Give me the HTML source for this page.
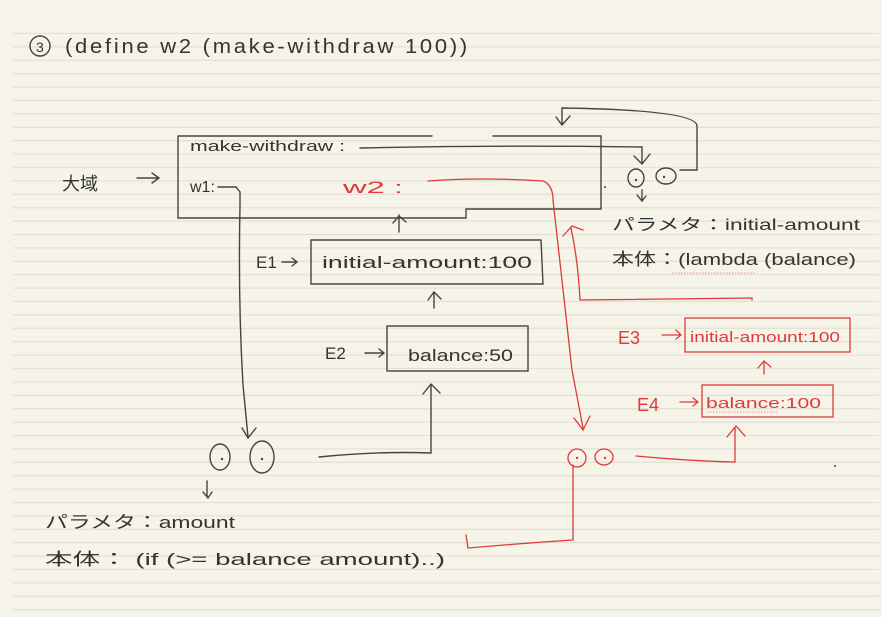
<!DOCTYPE html>
<html><head><meta charset="utf-8"><style>
html,body{margin:0;padding:0;background:#f6f4e9;}
svg{display:block}
text{font-family:"Liberation Sans","Noto Sans CJK JP",sans-serif;}
</style></head><body>
<svg width="882" height="617" viewBox="0 0 882 617" xmlns="http://www.w3.org/2000/svg">
<rect width="882" height="617" fill="#f6f4e9"/>
<g stroke="#e2e2d9" stroke-width="1.3">
<line x1="13" x2="879" y1="33.5" y2="33.5"/><line x1="13" x2="879" y1="46.9" y2="46.9"/><line x1="13" x2="879" y1="60.3" y2="60.3"/><line x1="13" x2="879" y1="73.7" y2="73.7"/><line x1="13" x2="879" y1="87.1" y2="87.1"/><line x1="13" x2="879" y1="100.5" y2="100.5"/><line x1="13" x2="879" y1="113.9" y2="113.9"/><line x1="13" x2="879" y1="127.3" y2="127.3"/><line x1="13" x2="879" y1="140.7" y2="140.7"/><line x1="13" x2="879" y1="154.1" y2="154.1"/><line x1="13" x2="879" y1="167.5" y2="167.5"/><line x1="13" x2="879" y1="180.9" y2="180.9"/><line x1="13" x2="879" y1="194.3" y2="194.3"/><line x1="13" x2="879" y1="207.7" y2="207.7"/><line x1="13" x2="879" y1="221.1" y2="221.1"/><line x1="13" x2="879" y1="234.5" y2="234.5"/><line x1="13" x2="879" y1="247.9" y2="247.9"/><line x1="13" x2="879" y1="261.3" y2="261.3"/><line x1="13" x2="879" y1="274.7" y2="274.7"/><line x1="13" x2="879" y1="288.1" y2="288.1"/><line x1="13" x2="879" y1="301.5" y2="301.5"/><line x1="13" x2="879" y1="314.9" y2="314.9"/><line x1="13" x2="879" y1="328.3" y2="328.3"/><line x1="13" x2="879" y1="341.7" y2="341.7"/><line x1="13" x2="879" y1="355.1" y2="355.1"/><line x1="13" x2="879" y1="368.5" y2="368.5"/><line x1="13" x2="879" y1="381.9" y2="381.9"/><line x1="13" x2="879" y1="395.3" y2="395.3"/><line x1="13" x2="879" y1="408.7" y2="408.7"/><line x1="13" x2="879" y1="422.1" y2="422.1"/><line x1="13" x2="879" y1="435.5" y2="435.5"/><line x1="13" x2="879" y1="448.9" y2="448.9"/><line x1="13" x2="879" y1="462.3" y2="462.3"/><line x1="13" x2="879" y1="475.7" y2="475.7"/><line x1="13" x2="879" y1="489.1" y2="489.1"/><line x1="13" x2="879" y1="502.5" y2="502.5"/><line x1="13" x2="879" y1="515.9" y2="515.9"/><line x1="13" x2="879" y1="529.3" y2="529.3"/><line x1="13" x2="879" y1="542.7" y2="542.7"/><line x1="13" x2="879" y1="556.1" y2="556.1"/><line x1="13" x2="879" y1="569.5" y2="569.5"/><line x1="13" x2="879" y1="582.9" y2="582.9"/><line x1="13" x2="879" y1="596.3" y2="596.3"/><line x1="13" x2="879" y1="609.7" y2="609.7"/>
</g>

<g fill="none" stroke="#444" stroke-width="1.4" stroke-linecap="round">
<circle cx="40" cy="46" r="10"/>
<path d="M178 136 H432 M493 136 H601 V209 H466 V218 H178 V136"/>
<path d="M360 148 Q500 145 642 147 V163 M634 156 L642 164 L650 154"/>
<ellipse cx="636" cy="178" rx="8" ry="9"/><ellipse cx="666" cy="176" rx="10" ry="8"/>
<path d="M680 170 H697 V126 Q697 110 562 108 V124 M556 117 L562 125 L570 116"/>
<path d="M642 190 V200 M637 195 L642 201 L646 196"/>
<path d="M311 240 H541 L543 284 H311 Z"/>
<path d="M399 232 V215 M393 223 L399 216 L406 222"/>
<path d="M434 308 V292 M428 300 L434 292 L441 299"/>
<rect x="387" y="326" width="141" height="45"/>
<path d="M282 262 H296 M292 258 L297 262 L292 266"/>
<path d="M365 353 H383 M379 349 L384 353 L379 357"/>
<path d="M218 187 H236 L240 192"/>
<path d="M240 192 V205 Q238 300 243 385 L248 437 M242 428 L248 438 L256 428"/>
<ellipse cx="220" cy="457" rx="10" ry="13"/><ellipse cx="262" cy="457" rx="12" ry="16"/>
<path d="M319 457 Q380 451 431 453 V385 M423 394 L431 384 L440 393"/>
<path d="M207 481 V497 M203 492 L208 498 L212 492"/>
<path d="M137 178 H158 M152 173 L159 178 L152 183"/>
</g>
<g fill="#444"><circle cx="222" cy="459" r="1.2"/><circle cx="262" cy="459" r="1.2"/><circle cx="636" cy="180" r="1.2"/><circle cx="664" cy="177" r="1.2"/><circle cx="605" cy="187" r="1"/><circle cx="835" cy="466" r="1"/></g>

<g fill="none" stroke="#e0393b" stroke-width="1.3" stroke-linecap="round">
<path d="M428 181 Q480 177 543 181 Q553 185 553 200 L572 370 L583 428 M574 418 L583 430 L590 416"/>
<ellipse cx="577" cy="458" rx="9" ry="9"/><ellipse cx="604" cy="457" rx="9" ry="8"/>
<path d="M752 300 V298 L580 300 Q578 260 571 228 M563 236 L572 226 L583 230"/>
<rect x="685" y="318" width="165" height="34"/>
<rect x="702" y="385" width="131" height="32"/>
<path d="M764 374 V362 M758 368 L764 361 L771 367"/>
<path d="M636 456 Q690 461 735 462 V428 M727 437 L736 426 L745 436"/>
<path d="M573 465 V540 Q540 542 468 548 L466 535"/>
<path d="M662 335 H680 M676 330 L681 335 L676 339"/>
<path d="M680 402 H697 M693 398 L698 402 L693 406"/>
</g>
<g fill="#e0393b"><circle cx="577" cy="458" r="1.2"/><circle cx="605" cy="458" r="1.2"/></g>
<line x1="672" y1="273" x2="755" y2="273" stroke="#f09090" stroke-width="1" stroke-dasharray="1.5 1.5"/>
<line x1="707" y1="412" x2="777" y2="412" stroke="#f09090" stroke-width="1" stroke-dasharray="1.5 1.5"/>

<g fill="#333" font-size="17">
<text x="36" y="52" font-size="14">3</text>
<text x="65" y="53" font-size="20" letter-spacing="2.5" textLength="405" lengthAdjust="spacingAndGlyphs">(define w2 (make-withdraw 100))</text>
<text x="62" y="190" font-size="18">大域</text>
<text x="190" y="151" font-size="15" textLength="155" lengthAdjust="spacingAndGlyphs">make-withdraw :</text>
<text x="190" y="192" font-size="16">w1:</text>
<text x="256" y="268" font-size="17">E1</text>
<text x="322" y="268" font-size="17" textLength="210" lengthAdjust="spacingAndGlyphs">initial-amount:100</text>
<text x="325" y="359" font-size="17">E2</text>
<text x="408" y="361" font-size="17" textLength="105" lengthAdjust="spacingAndGlyphs">balance:50</text>
<text x="612" y="230" font-size="16" textLength="248" lengthAdjust="spacingAndGlyphs">パラメタ：initial-amount</text>
<text x="612" y="265" font-size="17" textLength="244" lengthAdjust="spacingAndGlyphs">本体：(lambda (balance)</text>
<text x="45" y="528" font-size="17" textLength="190" lengthAdjust="spacingAndGlyphs">パラメタ：amount</text>
<text x="45" y="565" font-size="17" textLength="400" lengthAdjust="spacingAndGlyphs">本体：  (if (&gt;= balance amount)..)</text>
</g>
<g fill="#e0393b">
<text x="343" y="193" font-size="17" textLength="60" lengthAdjust="spacingAndGlyphs">w2 :</text>
<text x="618" y="344" font-size="18">E3</text>
<text x="690" y="342" font-size="15" textLength="150" lengthAdjust="spacingAndGlyphs">initial-amount:100</text>
<text x="637" y="411" font-size="18">E4</text>
<text x="706" y="408" font-size="15" textLength="115" lengthAdjust="spacingAndGlyphs">balance:100</text>
</g>
</svg>
</body></html>
